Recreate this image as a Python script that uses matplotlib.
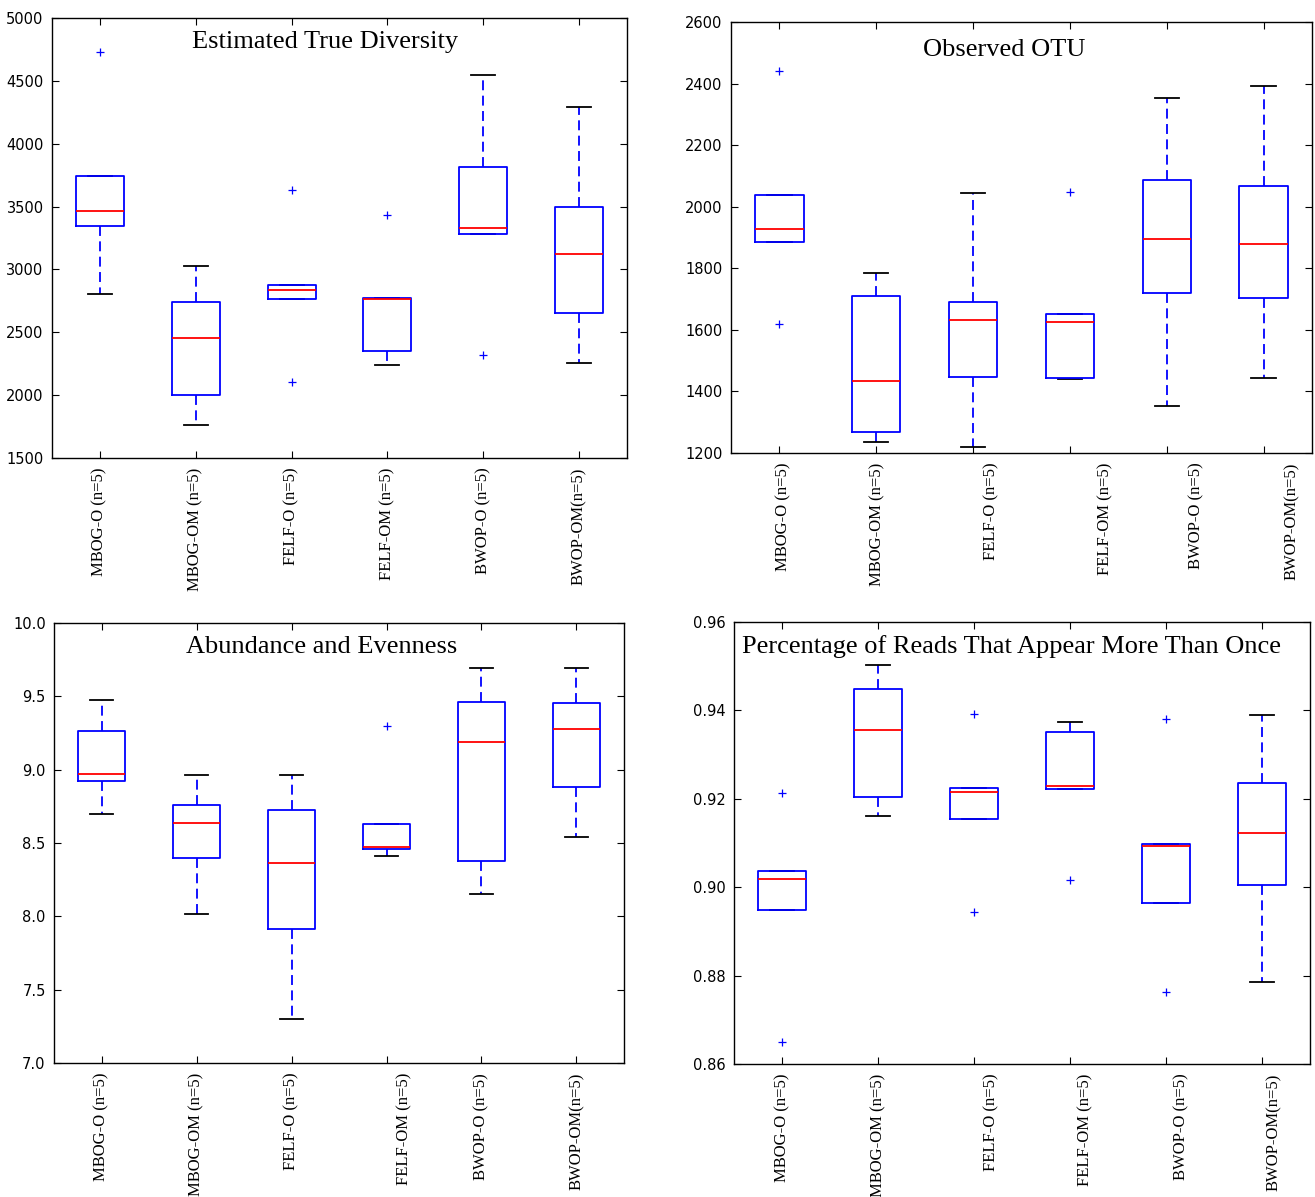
import matplotlib
matplotlib.use('Agg')
import matplotlib.pyplot as plt
import matplotlib.transforms as mtransforms
import numpy as np

groups = ['MBOG-O (n=5)', 'MBOG-OM (n=5)', 'FELF-O (n=5)',
          'FELF-OM (n=5)', 'BWOP-O (n=5)', 'BWOP-OM(n=5)']

# Estimated True Diversity
div_whislo = [2803, 1765, 2766, 2240, 3278, 2252]
div_q1     = [3345, 2003, 2766, 2350, 3278, 2654]
div_med    = [3466, 2453, 2840, 2766, 3332, 3125]
div_q3     = [3746, 2739, 2873, 2776, 3813, 3500]
div_whishi = [3746, 3028, 2873, 2776, 4547, 4294]
div_fliers = [[4726], [], [3634, 2103], [3436], [2316], []]

# Observed OTU
otu_whislo = [1886, 1237, 1220, 1439, 1352, 1442]
otu_q1     = [1886, 1267, 1448, 1445, 1720, 1702]
otu_med    = [1928, 1433, 1631, 1626, 1896, 1880]
otu_q3     = [2039, 1709, 1689, 1650, 2087, 2067]
otu_whishi = [2039, 1785, 2044, 1650, 2353, 2391]
otu_fliers = [[2440, 1619], [], [], [2047], [], []]

# Abundance and Evenness
abe_whislo = [8.697, 8.017, 7.298, 8.410, 8.154, 8.544]
abe_q1     = [8.922, 8.397, 7.913, 8.459, 8.381, 8.880]
abe_med    = [8.968, 8.635, 8.366, 8.472, 9.188, 9.278]
abe_q3     = [9.266, 8.756, 8.728, 8.629, 9.460, 9.452]
abe_whishi = [9.475, 8.966, 8.963, 8.629, 9.692, 9.692]
abe_fliers = [[], [], [], [9.299], [], []]

# Percentage of reads that appear more than once
pct_whislo = [0.8948, 0.9162, 0.9155, 0.9222, 0.8965, 0.8785]
pct_q1     = [0.8948, 0.9204, 0.9155, 0.9222, 0.8965, 0.9005]
pct_med    = [0.9019, 0.9356, 0.9216, 0.9229, 0.9094, 0.9123]
pct_q3     = [0.9036, 0.9449, 0.9224, 0.9350, 0.9097, 0.9235]
pct_whishi = [0.9036, 0.9502, 0.9224, 0.9374, 0.9097, 0.9389]
pct_fliers = [[0.9212, 0.8650], [], [0.9392, 0.8943], [0.9017], [0.9380, 0.8763], []]


def make_stats(whislo, q1, med, q3, whishi, fliers):
    stats = []
    for i in range(len(med)):
        stats.append(dict(whislo=whislo[i], q1=q1[i], med=med[i], q3=q3[i],
                          whishi=whishi[i], fliers=np.array(fliers[i])))
    return stats


panels = [
    dict(title='Estimated True Diversity', rect=[0.0395, 0.6174, 0.4373, 0.3676],
         stats=make_stats(div_whislo, div_q1, div_med, div_q3, div_whishi, div_fliers),
         ylim=(1500, 5000), yticks=np.arange(1500, 5001, 500), fmt='%d',
         offsets=[0, 0, 0, 0, 0, 0], tx=0.475, ty=0.945),
    dict(title='Observed OTU', rect=[0.5559, 0.6216, 0.4418, 0.3600],
         stats=make_stats(otu_whislo, otu_q1, otu_med, otu_q3, otu_whishi, otu_fliers),
         ylim=(1200, 2600), yticks=np.arange(1200, 2601, 200), fmt='%d',
         offsets=[4, 1, 18, 35, 30, 28], tx=0.47, ty=0.935),
    dict(title='Abundance and Evenness', rect=[0.0411, 0.1119, 0.4334, 0.3676],
         stats=make_stats(abe_whislo, abe_q1, abe_med, abe_q3, abe_whishi, abe_fliers),
         ylim=(7.0, 10.0), yticks=np.arange(7.0, 10.01, 0.5), fmt='%.1f',
         offsets=[0, 0, 0, 18, 0, 0], tx=0.47, ty=0.945),
    dict(title='Percentage of Reads That Appear More Than Once',
         rect=[0.5582, 0.1111, 0.4380, 0.3693],
         stats=make_stats(pct_whislo, pct_q1, pct_med, pct_q3, pct_whishi, pct_fliers),
         ylim=(0.86, 0.96), yticks=np.arange(0.86, 0.9601, 0.02), fmt='%.2f',
         offsets=[0, 0, 17, 15, 15, 12], tx=0.482, ty=0.945),
]

fig = plt.figure(figsize=(13.15, 11.97), dpi=100)

for p in panels:
    ax = fig.add_axes(p['rect'])
    ax.bxp(p['stats'], positions=range(1, 7), widths=0.5,
           boxprops=dict(color='blue', lw=1.3, zorder=3),
           medianprops=dict(color='red', lw=1.3, zorder=3.5),
           whiskerprops=dict(color='blue', lw=1.3, linestyle=(0, (5.5, 3)), zorder=2),
           capprops=dict(color='black', lw=1.3, zorder=2),
           flierprops=dict(marker='+', markeredgecolor='blue', markersize=6,
                           markeredgewidth=0.9, linestyle='none'))
    ax.set_xlim(0.5, 6.5)
    ax.set_ylim(*p['ylim'])
    ax.set_yticks(p['yticks'])
    ax.set_yticklabels([p['fmt'] % v for v in p['yticks']], fontsize=10.5,
                       family='DejaVu Sans')
    ax.set_xticks(range(1, 7))
    ax.set_xticklabels(groups, rotation=90, fontsize=12, family='Liberation Serif')
    ax.tick_params(direction='in', top=True, right=True, length=5, width=0.8)
    ax.tick_params(axis='y', pad=6)
    ax.tick_params(axis='x', pad=7)
    for lab, dx in zip(ax.get_xticklabels(), p['offsets']):
        lab.set_transform(lab.get_transform() +
                          mtransforms.ScaledTranslation(dx / 100.0, 0, fig.dpi_scale_trans))
    for s in ax.spines.values():
        s.set_linewidth(1.0)
    ax.text(p['tx'], p['ty'], p['title'], transform=ax.transAxes, ha='center', va='center',
            fontsize=19, family='Liberation Serif')

fig.savefig('out.png', dpi=100)
